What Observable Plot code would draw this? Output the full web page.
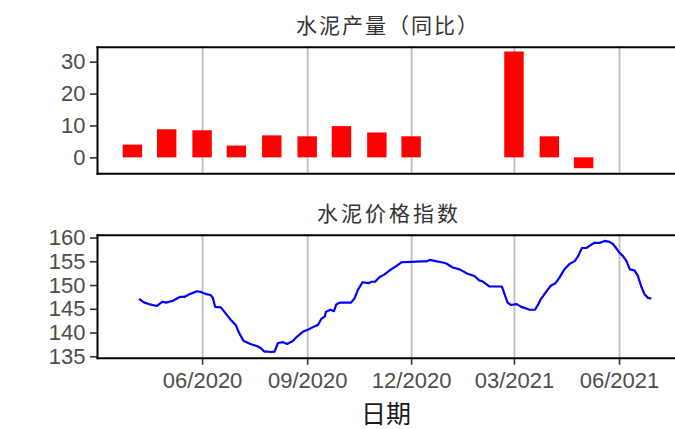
<!DOCTYPE html>
<html>
<head>
<meta charset="utf-8">
<script src="https://cdn.jsdelivr.net/npm/d3@7"></script>
<script src="https://cdn.jsdelivr.net/npm/@observablehq/plot@0.6"></script>
<style>
  body { margin: 0; background: #fff; overflow: hidden; }
  #wrap { position: relative; width: 675px; height: 429px; overflow: hidden; }
  #wrap > div.p { position: absolute; left: 0; }
  .ttl { position: absolute; left: 97px; width: 578px; text-align: center; font-family: "Noto Sans CJK SC", sans-serif; color: #333; line-height: 1; }
</style>
</head>
<body>
<div id="wrap">
  <div class="p" id="top" style="top:0px"></div>
  <div class="p" id="bot" style="top:195px"></div>
  <div class="ttl" style="top:14px;font-size:21px;letter-spacing:2px;padding-left:2px;">水泥产量（同比）</div>
  <div class="ttl" style="top:202px;font-size:21px;letter-spacing:3px;padding-left:3px;">水泥价格指数</div>
  <div class="ttl" style="top:400px;font-size:25px;color:#1a1a1a;">日期</div>
</div>
<script>
// ---- data ----
const barDates = ["2020-04-01","2020-05-01","2020-06-01","2020-07-01","2020-08-01","2020-09-01","2020-10-01","2020-11-01","2020-12-01","2021-03-01","2021-04-01","2021-05-01"];
const barValues = [4.0, 8.8, 8.5, 3.7, 6.9, 6.6, 9.8, 7.8, 6.6, 33.2, 6.6, -3.4];

const priceDates = ["2020-04-07","2020-04-11","2020-04-15","2020-04-22","2020-04-27","2020-04-30","2020-05-06","2020-05-12","2020-05-16","2020-05-20","2020-05-23","2020-05-27","2020-05-31",
"2020-06-04","2020-06-08","2020-06-10","2020-06-12","2020-06-17","2020-06-21","2020-06-26","2020-06-30","2020-07-03","2020-07-07","2020-07-13","2020-07-19","2020-07-22","2020-07-25","2020-07-28","2020-07-31",
"2020-08-03","2020-08-06","2020-08-10","2020-08-14","2020-08-19","2020-08-23","2020-08-28","2020-09-01","2020-09-07","2020-09-10","2020-09-13","2020-09-16","2020-09-17","2020-09-21","2020-09-24","2020-09-26","2020-09-29",
"2020-10-09","2020-10-12","2020-10-15","2020-10-19","2020-10-24","2020-10-27","2020-10-30","2020-11-03","2020-11-07","2020-11-13","2020-11-17","2020-11-22","2020-12-01","2020-12-09","2020-12-14","2020-12-17","2020-12-21","2020-12-27","2020-12-31",
"2021-01-06","2021-01-12","2021-01-19","2021-01-25","2021-01-29","2021-02-01","2021-02-07","2021-02-18","2021-02-20","2021-02-23","2021-02-26","2021-03-03","2021-03-07","2021-03-11","2021-03-14","2021-03-19","2021-03-22","2021-03-24","2021-03-27","2021-03-30",
"2021-04-02","2021-04-06","2021-04-09","2021-04-14","2021-04-18","2021-04-23","2021-04-26","2021-04-29","2021-05-03","2021-05-06","2021-05-10","2021-05-15","2021-05-19","2021-05-23","2021-05-26","2021-05-29",
"2021-06-01","2021-06-04","2021-06-07","2021-06-10","2021-06-14","2021-06-17","2021-06-20","2021-06-23","2021-06-26","2021-06-28"];
const priceValues = [147.1,146.4,146.1,145.7,146.6,146.4,146.8,147.6,147.6,148.1,148.4,148.8,148.6,
148.2,148.0,147.4,145.5,145.4,144.2,142.7,141.7,140.0,138.3,137.7,137.2,136.8,136.1,136.1,136.0,
136.1,137.9,138.1,137.7,138.3,139.3,140.3,140.7,141.4,141.7,143.0,143.5,144.5,144.9,144.6,146.0,146.4,
146.4,147.3,149.1,150.7,150.5,150.8,150.8,151.8,152.3,153.4,154.0,154.9,155.0,155.1,155.1,155.4,155.2,154.9,154.7,
153.8,153.4,152.5,152.0,151.1,150.9,149.8,149.8,148.4,146.4,145.9,146.1,145.5,145.2,144.9,144.9,146.1,147.1,148.1,149.1,
150.0,150.5,151.5,153.5,154.5,155.2,156.3,157.9,157.9,158.4,159.0,159.0,159.4,159.2,158.8,157.9,
156.9,156.2,155.2,153.4,153.2,152.1,149.8,148.1,147.4,147.3];

const xTickDates = ["2020-06-01","2020-09-01","2020-12-01","2021-03-01","2021-06-01"];
const xDomain = ["2020-03-01","2021-07-20"];
const yTicksTop = [0, 10, 20, 30];
const yTicksBot = [135, 140, 145, 150, 155, 160];

// ---- tables ----
const bars = barDates.map((d, i) => ({date: new Date(d), value: barValues[i]}));
const price = priceDates.map((d, i) => ({date: new Date(d), value: priceValues[i]}));
const xTicks = xTickDates.map(d => new Date(d));
const xDom = xDomain.map(d => new Date(d));

const fontStyle = {fontFamily: "'Liberation Sans', Arial, sans-serif", background: "white", overflow: "visible"};
const halfBar = 204; // hours

function frames() {
  return [
    Plot.frame({anchor: "top", stroke: "#000", strokeWidth: 2}),
    Plot.frame({anchor: "left", stroke: "#000", strokeWidth: 2}),
    Plot.frame({anchor: "bottom", stroke: "#000", strokeWidth: 2})
  ];
}

const topPlot = Plot.plot({
  width: 675, height: 195,
  marginLeft: 97, marginRight: 0, marginTop: 46.7, marginBottom: 21.7,
  style: fontStyle,
  x: {type: "utc", domain: xDom, axis: null},
  y: {domain: [-5, 34.7], axis: null},
  marks: [
    Plot.gridX(xTicks, {stroke: "#bebebe", strokeOpacity: 1, strokeWidth: 1.8}),
    Plot.rect(bars, {
      x1: d => d3.utcHour.offset(d.date, -halfBar),
      x2: d => d3.utcHour.offset(d.date, halfBar),
      y1: 0, y2: "value", fill: "#ff0000"
    }),
    Plot.axisY(yTicksTop, {tickSize: 7, tickPadding: 5, fontSize: 22, fill: "#4d4d4d", stroke: "#333", strokeWidth: 1.6, label: null}),
    ...frames()
  ]
});
document.getElementById("top").appendChild(topPlot);

const botPlot = Plot.plot({
  width: 675, height: 234,
  marginLeft: 97, marginRight: 0, marginTop: 39.7, marginBottom: 71.3,
  style: fontStyle,
  x: {type: "utc", domain: xDom, axis: null},
  y: {domain: [134.7, 160.6], axis: null},
  marks: [
    Plot.gridX(xTicks, {stroke: "#bebebe", strokeOpacity: 1, strokeWidth: 1.8}),
    Plot.line(price, {x: "date", y: "value", stroke: "#0000ff", strokeWidth: 2.2}),
    Plot.axisY(yTicksBot, {tickSize: 7, tickPadding: 5, fontSize: 22, fill: "#4d4d4d", stroke: "#333", strokeWidth: 1.6, label: null}),
    Plot.axisX(xTicks, {tickSize: 7, tickPadding: 7, fontSize: 22, fill: "#4d4d4d", stroke: "#333", strokeWidth: 1.6, tickFormat: d3.utcFormat("%m/%Y"), label: null}),
    ...frames()
  ]
});
document.getElementById("bot").appendChild(botPlot);
</script>
</body>
</html>
